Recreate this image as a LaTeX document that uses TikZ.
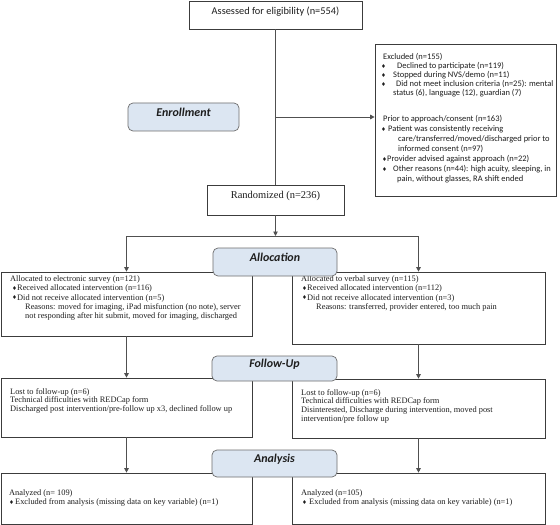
\documentclass[tikz,border=0pt]{standalone}
\usepackage{fontspec}
\setmainfont{Liberation Serif}
\newfontfamily\calfont{Carlito}
\newfontfamily\djv{DejaVu Sans}
\usetikzlibrary{arrows.meta,fit}
\newcommand\dia{{\djv\fontsize{5.5}{5.5}\selectfont\raisebox{0.4pt}{♦}}}
\newcommand\bu[1]{\makebox[#1][l]{\dia}}
\definecolor{phasefill}{HTML}{DCE6F2}
\definecolor{phaseline}{HTML}{6E6E6E}
\definecolor{boxline}{HTML}{3C3C3C}
\definecolor{connline}{HTML}{505050}
\definecolor{txt}{HTML}{1E1E1E}
\begin{document}
\begin{tikzpicture}[x=1bp,y=-1bp,
  box/.style={draw=boxline, line width=0.7pt, inner sep=0pt, fill=white},
  phase/.style={draw=phaseline, line width=0.7pt, fill=phasefill, rounded corners=5bp, inner sep=0pt, font=\calfont\bfseries\itshape\fontsize{12}{14}\selectfont, text=txt},
  sertxt/.style={inner sep=0pt, anchor=north west, align=left, font=\fontsize{8.4}{9.3}\selectfont, text=txt},
  caltxt/.style={inner sep=0pt, anchor=north west, align=left, font=\calfont\fontsize{8.5}{9.1}\selectfont, text=txt},
  conn/.style={draw=connline, line width=0.9pt},
  arr/.style={conn, -{Triangle[length=4.5bp,width=4.5bp]}},
]
\fill[white] (0,0) rectangle (560,525);
\useasboundingbox (0,0) rectangle (560,525);

% boxes
\node[box, fit={(189,1)(362,29)}, font=\calfont\fontsize{10.4}{12}\selectfont, text=txt] (assess) {Assessed for eligibility (n=554)};
\node[box, fit={(375,44)(556,196)}] (excl) {};
\node[box, fit={(207,185)(344,215)}, font=\fontsize{10.5}{12}\selectfont, text=txt] (rand) {Randomized (n=236)};
\node[box, fit={(1,272)(252,336)}] (allocL) {};
\node[box, fit={(292,272)(545,344)}] (allocR) {};
\node[box, fit={(1,378)(252,437)}] (fuL) {};
\node[box, fit={(292,379)(545,438)}] (fuR) {};
\node[box, fit={(1,473)(252,524)}] (anL) {};
\node[box, fit={(292,473)(545,524)}] (anR) {};

% texts
\node[caltxt] (exclA) at (381,53) {%
\hspace*{2bp}Excluded (n=155)\\
\bu{16bp}Declined to participate (n=119)\\
\bu{12bp}Stopped during NVS/demo (n=11)\\
\bu{15bp}Did not meet inclusion criteria (n=25): mental\\
\hspace*{12bp}status (6), language (12), guardian (7)};

\node[caltxt, font=\calfont\fontsize{8.5}{10.1}\selectfont] (exclB) at (381,115) {%
\hspace*{2bp}Prior to approach/consent (n=163)\\
\bu{7bp}Patient was consistently receiving\\
\hspace*{17bp}care/transferred/moved/discharged prior to\\
\hspace*{17bp}informed consent (n=97)\\
\hspace*{1bp}\bu{5bp}Provider advised against approach (n=22)\\
\hspace*{1bp}\bu{11bp}Other reasons (n=44): high acuity, sleeping, in\\
\hspace*{16bp}pain, without glasses, RA shift ended};

\node[sertxt] (allocLtxt) at (10,275.5) {%
Allocated to electronic survey (n=121)\\
\hspace*{2bp}\bu{5bp}Received allocated intervention (n=116)\\
\hspace*{2bp}\bu{5bp}Did not receive allocated intervention (n=5)\\
\hspace*{15bp}Reasons: moved for imaging, iPad misfunction (no note), server\\
\hspace*{15bp}not responding after hit submit, moved for imaging, discharged};

\node[sertxt] (allocRtxt) at (301,275.5) {%
Allocated to verbal survey (n=115)\\
\hspace*{1bp}\bu{5bp}Received allocated intervention (n=112)\\
\hspace*{1bp}\bu{5bp}Did not receive allocated intervention (n=3)\\
\hspace*{15bp}Reasons: transferred, provider entered, too much pain};

\node[sertxt, font=\fontsize{8.4}{8.7}\selectfont] (fuLtxt) at (10,388) {%
Lost to follow-up (n=6)\\
Technical difficulties with REDCap form\\
Discharged post intervention/pre-follow up x3, declined follow up};

\node[sertxt, font=\fontsize{8.4}{8.7}\selectfont] (fuRtxt) at (301,389) {%
Lost to follow-up (n=6)\\
Technical difficulties with REDCap form\\
Disinterested, Discharge during intervention, moved post\\
intervention/pre follow up};

\node[sertxt, font=\fontsize{8.4}{10}\selectfont] (anLtxt) at (9,489) {%
Analyzed (n= 109)\\
\bu{6bp}Excluded from analysis (missing data on key variable) (n=1)};

\node[sertxt, font=\fontsize{8.4}{10}\selectfont] (anRtxt) at (301,489) {%
Analyzed (n=105)\\
\hspace*{1bp}\bu{7bp}Excluded from analysis (missing data on key variable) (n=1)};

% connectors
\coordinate (jx) at (275.5,117);
\coordinate (split) at (275.5,236);
\draw[conn] (assess.south) -- (rand.north);
\draw[arr] (jx) -- (jx -| excl.west);
\draw[arr] (rand.south) -- (split);
\coordinate (bl) at (allocL.north |- split);
\coordinate (br) at (allocR.north |- split);
\draw[conn] (bl) -- (br);
\draw[arr] (bl) -- (allocL.north);
\draw[arr] (br) -- (allocR.north);
\draw[arr] (allocL.south) -- (fuL.north);
\draw[arr] (allocR.south) -- (fuR.north);
\draw[arr] (fuL.south) -- (anL.north);
\draw[arr] (fuR.south) -- (anR.north);

% phase labels
\node[phase, fit={(128,103)(239,131)}] (enroll) {Enrollment};
\node[phase, fit={(213,248)(337,276)}] (alloc) {Allocation};
\node[phase, fit={(212,356)(337,381)}] (fu) {Follow-Up};
\node[phase, fit={(212,450)(337,477)}] (an) {Analysis};
\end{tikzpicture}
\end{document}
